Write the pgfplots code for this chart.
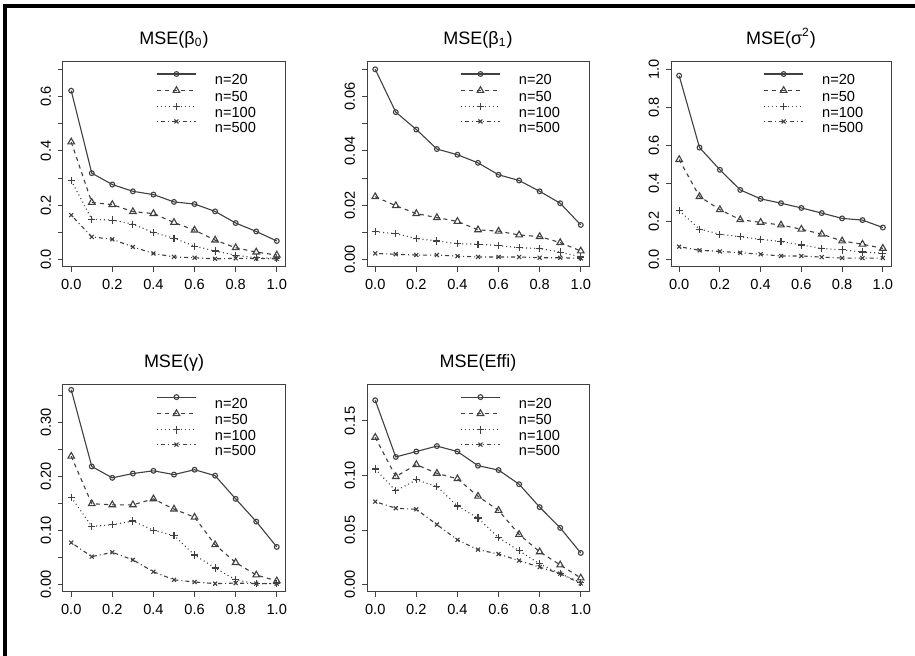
\documentclass[border=0pt]{standalone}
\usepackage{fontspec}
\setmainfont{Liberation Sans}
\usepackage{pgfplots}
\pgfplotsset{compat=1.18}

\pgfplotsset{
  mse/.style={
    scale only axis, width=111pt, height=102.5pt,
    anchor=south west,
    xmin=-0.04, xmax=1.04,
    xtick={0,0.2,0.4,0.6,0.8,1},
    xticklabels={0.0,0.2,0.4,0.6,0.8,1.0},
    scaled y ticks=false,
    tick align=outside, xtick pos=left, ytick pos=left,
    major tick length=2.5pt,
    axis line style={black!75, line width=0.5pt},
    every tick/.style={black!75, line width=0.5pt},
    tick label style={font=\fontsize{7.3}{8}\selectfont},
    yticklabel style={rotate=90, anchor=south},
    title style={at={(0.5,1)}, anchor=base, yshift=2.8pt,
      font=\fontsize{9}{10}\selectfont},
    legend cell align=left,
    legend style={draw=none, fill=none, inner sep=0pt,
      at={(0.419,0.955)}, anchor=north west,
      font=\fontsize{7.3}{8}\selectfont, row sep=0.9pt,
      nodes={inner sep=0pt, text height=5.5pt, text depth=0pt}},
    legend image code/.code={
      \draw[mark repeat=2, mark phase=2]
        plot coordinates {(0pt,2.7pt) (9.75pt,2.7pt) (19.5pt,2.7pt)};
      \path[draw=none] (0pt,0pt) -- (29pt,0pt);},
  },
  s20/.style={black!75, line width=0.55pt, mark=o, mark size=1.2pt, mark options={solid}},
  s50/.style={black!75, line width=0.55pt, dash pattern=on 2pt off 2pt,
    mark=triangle, mark size=1.9pt, mark options={solid}},
  s100/.style={black!75, line width=0.55pt, dash pattern=on 0.5pt off 1.5pt,
    mark=+, mark size=1.8pt, mark options={solid}},
  s500/.style={black!75, line width=0.55pt, dash pattern=on 0.5pt off 1.5pt on 2pt off 1.5pt,
    mark=x, mark size=1.4pt, mark options={solid}},
}

\begin{document}
\begin{tikzpicture}
\useasboundingbox (0,0) rectangle (457.5pt,328pt);
\fill[white] (0,0) rectangle (457.5pt,328pt);
\draw[line width=2pt] (2.5pt,0pt) -- (2.5pt,325pt) -- (457.5pt,325pt);

% MSE(beta0)
\begin{axis}[mse, at={(31.5pt,194.5pt)},
  title={MSE(β\textsubscript{0})},
  ymin=-0.028, ymax=0.728,
  ytick={0,0.1,0.2,0.3,0.4,0.5,0.6,0.7},
  yticklabels={0.0,,0.2,,0.4,,0.6,}]
\addplot[s20] coordinates {(0,0.622) (0.1,0.318) (0.2,0.276) (0.3,0.251) (0.4,0.239) (0.5,0.212) (0.6,0.204) (0.7,0.177) (0.8,0.134) (0.9,0.103) (1,0.068)};
\addplot[s50] coordinates {(0,0.433) (0.1,0.210) (0.2,0.202) (0.3,0.176) (0.4,0.169) (0.5,0.136) (0.6,0.108) (0.7,0.071) (0.8,0.043) (0.9,0.027) (1,0.016)};
\addplot[s100] coordinates {(0,0.291) (0.1,0.148) (0.2,0.145) (0.3,0.130) (0.4,0.099) (0.5,0.078) (0.6,0.049) (0.7,0.031) (0.8,0.015) (0.9,0.006) (1,0.004)};
\addplot[s500] coordinates {(0,0.163) (0.1,0.083) (0.2,0.074) (0.3,0.046) (0.4,0.022) (0.5,0.009) (0.6,0.006) (0.7,0.002) (0.8,0.004) (0.9,0.003) (1,0.002)};
\legend{n=20,n=50,n=100,n=500}
\end{axis}

% MSE(beta1)
\begin{axis}[mse, at={(183.5pt,194.5pt)},
  title={MSE(β\textsubscript{1})},
  ymin=-0.0028, ymax=0.0728,
  ytick={0,0.01,0.02,0.03,0.04,0.05,0.06,0.07},
  yticklabels={0.00,,0.02,,0.04,,0.06,}]
\addplot[s20] coordinates {(0,0.0701) (0.1,0.0543) (0.2,0.0479) (0.3,0.0407) (0.4,0.0386) (0.5,0.0356) (0.6,0.0312) (0.7,0.0291) (0.8,0.0251) (0.9,0.0207) (1,0.0127)};
\addplot[s50] coordinates {(0,0.0231) (0.1,0.0198) (0.2,0.0169) (0.3,0.0154) (0.4,0.0140) (0.5,0.0109) (0.6,0.0104) (0.7,0.0090) (0.8,0.0084) (0.9,0.0062) (1,0.0031)};
\addplot[s100] coordinates {(0,0.0102) (0.1,0.0095) (0.2,0.0077) (0.3,0.0068) (0.4,0.0058) (0.5,0.0056) (0.6,0.0051) (0.7,0.0043) (0.8,0.0040) (0.9,0.0027) (1,0.0009)};
\addplot[s500] coordinates {(0,0.0022) (0.1,0.0019) (0.2,0.0016) (0.3,0.0016) (0.4,0.0012) (0.5,0.0009) (0.6,0.0009) (0.7,0.0009) (0.8,0.0006) (0.9,0.0006) (1,0.0004)};
\legend{n=20,n=50,n=100,n=500}
\end{axis}

% MSE(sigma^2)
\begin{axis}[mse, at={(335.5pt,194.5pt)}, width=110pt,
  title={MSE(σ\textsuperscript{2})},
  ymin=-0.04, ymax=1.04,
  ytick={0,0.2,0.4,0.6,0.8,1},
  yticklabels={0.0,0.2,0.4,0.6,0.8,1.0}]
\addplot[s20] coordinates {(0,0.968) (0.1,0.589) (0.2,0.472) (0.3,0.366) (0.4,0.319) (0.5,0.296) (0.6,0.271) (0.7,0.244) (0.8,0.216) (0.9,0.207) (1,0.168)};
\addplot[s50] coordinates {(0,0.526) (0.1,0.331) (0.2,0.262) (0.3,0.209) (0.4,0.195) (0.5,0.181) (0.6,0.159) (0.7,0.133) (0.8,0.097) (0.9,0.080) (1,0.058)};
\addplot[s100] coordinates {(0,0.257) (0.1,0.159) (0.2,0.133) (0.3,0.119) (0.4,0.106) (0.5,0.094) (0.6,0.076) (0.7,0.058) (0.8,0.050) (0.9,0.039) (1,0.032)};
\addplot[s500] coordinates {(0,0.067) (0.1,0.048) (0.2,0.042) (0.3,0.035) (0.4,0.027) (0.5,0.018) (0.6,0.018) (0.7,0.012) (0.8,0.007) (0.9,0.007) (1,0.007)};
\legend{n=20,n=50,n=100,n=500}
\end{axis}

% MSE(gamma)
\begin{axis}[mse, at={(31.5pt,32pt)}, height=103.5pt,
  title={MSE(γ)},
  ymin=-0.0145, ymax=0.369,
  ytick={0,0.05,0.1,0.15,0.2,0.25,0.3,0.35},
  yticklabels={0.00,,0.10,,0.20,,0.30,}]
\addplot[s20] coordinates {(0,0.360) (0.1,0.218) (0.2,0.197) (0.3,0.205) (0.4,0.210) (0.5,0.203) (0.6,0.212) (0.7,0.201) (0.8,0.158) (0.9,0.116) (1,0.069)};
\addplot[s50] coordinates {(0,0.237) (0.1,0.149) (0.2,0.147) (0.3,0.147) (0.4,0.158) (0.5,0.139) (0.6,0.124) (0.7,0.073) (0.8,0.040) (0.9,0.017) (1,0.006)};
\addplot[s100] coordinates {(0,0.161) (0.1,0.107) (0.2,0.110) (0.3,0.117) (0.4,0.100) (0.5,0.090) (0.6,0.054) (0.7,0.030) (0.8,0.008) (0.9,0.001) (1,0.001)};
\addplot[s500] coordinates {(0,0.077) (0.1,0.051) (0.2,0.059) (0.3,0.045) (0.4,0.023) (0.5,0.008) (0.6,0.004) (0.7,0.001) (0.8,0.002) (0.9,0.001) (1,0.001)};
\legend{n=20,n=50,n=100,n=500}
\end{axis}

% MSE(Effi)
\begin{axis}[mse, at={(183.5pt,32pt)}, height=103.5pt,
  title={MSE(Effi)},
  ymin=-0.0068, ymax=0.183,
  ytick={0,0.05,0.1,0.15},
  yticklabels={0.00,0.05,0.10,0.15}]
\addplot[s20] coordinates {(0,0.169) (0.1,0.117) (0.2,0.122) (0.3,0.127) (0.4,0.122) (0.5,0.109) (0.6,0.105) (0.7,0.092) (0.8,0.071) (0.9,0.052) (1,0.029)};
\addplot[s50] coordinates {(0,0.135) (0.1,0.099) (0.2,0.110) (0.3,0.102) (0.4,0.097) (0.5,0.081) (0.6,0.068) (0.7,0.046) (0.8,0.030) (0.9,0.018) (1,0.006)};
\addplot[s100] coordinates {(0,0.106) (0.1,0.086) (0.2,0.096) (0.3,0.090) (0.4,0.072) (0.5,0.061) (0.6,0.043) (0.7,0.031) (0.8,0.019) (0.9,0.010) (1,0.002)};
\addplot[s500] coordinates {(0,0.076) (0.1,0.070) (0.2,0.069) (0.3,0.055) (0.4,0.041) (0.5,0.032) (0.6,0.028) (0.7,0.022) (0.8,0.016) (0.9,0.010) (1,0.001)};
\legend{n=20,n=50,n=100,n=500}
\end{axis}
\end{tikzpicture}
\end{document}
